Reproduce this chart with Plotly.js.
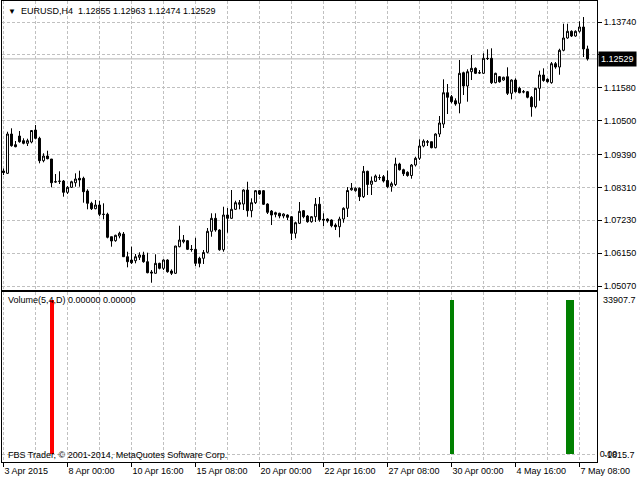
<!DOCTYPE html>
<html><head><meta charset="utf-8">
<script src="https://cdn.plot.ly/plotly-3.0.1.min.js"></script>
<style>html,body{margin:0;padding:0;background:#fff}#chart{width:640px;height:480px}</style>
</head><body><div id="chart"></div>
<script>
const symbol = 'EURUSD,H4';
const openP = [1.08847,1.08771,1.10062,1.09710,1.09996,1.09842,1.09756,1.09799,1.10193,1.09921,
1.09185,1.09339,1.09241,1.08495,1.08508,1.08518,1.08147,1.08311,1.08462,1.08607,
1.08607,1.08190,1.07786,1.07609,1.07730,1.07425,1.07425,1.06689,1.06558,1.06712,
1.06778,1.06032,1.05924,1.05901,1.06013,1.06088,1.05868,1.05530,1.05487,1.05815,
1.05651,1.05924,1.05563,1.05487,1.06361,1.06525,1.06558,1.06275,1.06275,1.05980,
1.05980,1.06177,1.06866,1.07293,1.06909,1.06262,1.07402,1.07293,1.07589,1.07753,
1.07763,1.08223,1.07543,1.07806,1.08200,1.08200,1.07763,1.07533,1.07477,1.07458,
1.07369,1.07402,1.07346,1.06801,1.07129,1.07543,1.07369,1.07182,1.07346,1.07756,
1.07260,1.07270,1.07238,1.07073,1.07017,1.07270,1.07622,1.08230,1.08200,1.08279,
1.08003,1.08837,1.08410,1.08508,1.08627,1.08660,1.08535,1.08344,1.08403,1.09077,
1.08889,1.08804,1.08699,1.09044,1.09264,1.09668,1.09789,1.09809,1.09612,1.10062,
1.10390,1.11418,1.11287,1.11155,1.11070,1.12075,1.11638,1.12108,1.12219,1.12075,
1.12055,1.12548,1.12548,1.11747,1.11944,1.11835,1.11944,1.11398,1.11835,1.11563,
1.11451,1.11451,1.11267,1.10958,1.11563,1.11999,1.11858,1.11747,1.12371,1.12262,
1.12811,1.13215,1.13435,1.13280,1.13435,1.13576,1.12855];
const highP = [1.08929,1.10137,1.10249,1.09832,1.10160,1.09921,1.09907,1.10193,1.10357,1.09973,
1.09428,1.09513,1.09241,1.08748,1.08837,1.08551,1.08354,1.08528,1.08771,1.08857,
1.08660,1.08246,1.07838,1.07894,1.07871,1.07786,1.07477,1.06689,1.06755,1.06853,
1.06843,1.06196,1.06361,1.06121,1.06177,1.06196,1.06164,1.05595,1.06111,1.05835,
1.05947,1.05947,1.05618,1.06390,1.07050,1.06745,1.06581,1.06416,1.06656,1.06032,
1.06252,1.06975,1.07458,1.07458,1.06932,1.07674,1.07632,1.08223,1.07871,1.07894,
1.08246,1.08495,1.07950,1.08223,1.08223,1.08223,1.07786,1.07566,1.07510,1.07477,
1.07458,1.07425,1.07369,1.07182,1.07829,1.07566,1.07402,1.07369,1.07960,1.07993,
1.07458,1.07293,1.07260,1.07129,1.07346,1.07655,1.08321,1.08453,1.08311,1.08305,
1.09011,1.08857,1.08666,1.08732,1.08732,1.08715,1.08863,1.08495,1.09283,1.09119,
1.08922,1.08837,1.09077,1.09316,1.09888,1.09888,1.09865,1.09815,1.10085,1.10653,
1.11858,1.11704,1.11343,1.11234,1.12492,1.12108,1.12187,1.12656,1.12252,1.12164,
1.12712,1.12843,1.12876,1.12075,1.11967,1.11944,1.12252,1.11858,1.11891,1.11615,
1.11507,1.11474,1.11310,1.11582,1.12141,1.12219,1.11891,1.12426,1.12426,1.12863,
1.13684,1.13684,1.13467,1.13467,1.13763,1.13904,1.12963];
const lowP = [1.08715,1.08748,1.09645,1.09625,1.09776,1.09724,1.09668,1.09756,1.09888,1.09100,
1.09132,1.09231,1.08311,1.08462,1.08420,1.08003,1.08091,1.08288,1.08331,1.08331,
1.07806,1.07589,1.07566,1.07589,1.07369,1.07260,1.06636,1.06361,1.06525,1.06636,
1.06025,1.05684,1.05792,1.05815,1.05924,1.05835,1.05487,1.05178,1.05480,1.05618,
1.05595,1.05507,1.05431,1.05464,1.06341,1.06472,1.06252,1.06196,1.05727,1.05684,
1.05792,1.06144,1.06689,1.06853,1.06229,1.06196,1.06820,1.07280,1.07566,1.07589,
1.07566,1.07346,1.07326,1.07763,1.08059,1.07730,1.07435,1.07073,1.07326,1.07293,
1.07293,1.07238,1.06581,1.06636,1.07106,1.07293,1.07149,1.07149,1.07172,1.07182,
1.07040,1.07149,1.06998,1.06909,1.06669,1.07149,1.07336,1.08200,1.08167,1.07861,
1.07960,1.08059,1.08059,1.08485,1.08551,1.08469,1.08288,1.08167,1.08354,1.08863,
1.08682,1.08660,1.08594,1.08994,1.09208,1.09625,1.09668,1.09592,1.09592,1.09963,
1.10259,1.10719,1.11070,1.10991,1.10742,1.11343,1.11123,1.11835,1.12032,1.12032,
1.12032,1.12492,1.11704,1.11727,1.11747,1.11812,1.11343,1.11201,1.11418,1.11398,
1.11398,1.11234,1.10630,1.10906,1.11155,1.11779,1.11747,1.11714,1.12206,1.12009,
1.12778,1.13192,1.13247,1.13257,1.13389,1.12591,1.12474];
const closeP = [1.08797,1.10062,1.09678,1.09645,1.09809,1.09756,1.09842,1.10177,1.09921,1.09185,
1.09339,1.09251,1.08462,1.08489,1.08510,1.08147,1.08311,1.08495,1.08584,1.08551,
1.08167,1.07786,1.07609,1.07730,1.07425,1.07422,1.06669,1.06548,1.06735,1.06801,
1.06032,1.05868,1.05835,1.06032,1.06088,1.05868,1.05507,1.05497,1.05815,1.05651,
1.05924,1.05540,1.05487,1.06384,1.06581,1.06581,1.06275,1.06269,1.05815,1.05815,
1.06170,1.06866,1.07293,1.06909,1.06262,1.07402,1.07293,1.07589,1.07806,1.07806,
1.08223,1.07543,1.07806,1.08200,1.08091,1.07753,1.07490,1.07402,1.07425,1.07369,
1.07435,1.07326,1.06801,1.07149,1.07523,1.07346,1.07182,1.07346,1.07756,1.07244,
1.07238,1.07205,1.07050,1.07017,1.07270,1.07622,1.08206,1.08279,1.08279,1.08003,
1.08837,1.08403,1.08518,1.08682,1.08633,1.08518,1.08331,1.08430,1.09077,1.08889,
1.08758,1.08699,1.09044,1.09264,1.09668,1.09832,1.09809,1.09612,1.10062,1.10423,
1.11418,1.11267,1.11123,1.11047,1.12055,1.11638,1.12108,1.12219,1.12055,1.12068,
1.12548,1.12541,1.11747,1.12055,1.11779,1.11924,1.11398,1.11835,1.11451,1.11418,
1.11444,1.11267,1.10958,1.11563,1.11999,1.11819,1.11779,1.12371,1.12262,1.12811,
1.13215,1.13435,1.13280,1.13435,1.13576,1.12855,1.12529];

const tickBars = [0,16,32,48,64,80,96,112,128,144];
const tickLabels = ['3 Apr 2015','8 Apr 00:00','10 Apr 16:00','15 Apr 08:00','20 Apr 00:00',
  '22 Apr 16:00','27 Apr 08:00','30 Apr 00:00','4 May 16:00','7 May 08:00'];
const priceTicks = [1.13740,1.12660,1.11580,1.10500,1.09390,1.08310,1.07230,1.06150,1.05070];

const volTitle = 'Volume(5,4,D) 0.00000 0.00000';
const volRedBars = [12];
const volRedValues = [33907.7];
const volGreenBars = [112,141,142];
const volGreenValues = [33907.7,33907.7,33907.7];
const volScaleMax = 33907.7;
const volScaleMin = -1815.7;
const copyright = 'FBS Trader, \u00a9 2001-2014, MetaQuotes Software Corp.';

const barIndex = openP.map((_, i) => i);
const last = openP.length - 1;
const f5 = v => v.toFixed(5);
const FONT = 'Liberation Sans, Arial, sans-serif';
const GRID = '#c0c0c0';
const DASH = '3px,2px';
const XR = [-0.375, 148.375];

const traces = [
  {
    type: 'candlestick', x: barIndex, open: openP, high: highP, low: lowP, close: closeP,
    xaxis: 'x', yaxis: 'y',
    increasing: {line: {color: '#000', width: 1}, fillcolor: '#fff'},
    decreasing: {line: {color: '#000', width: 1}, fillcolor: '#000'},
    whiskerwidth: 0, hoverinfo: 'skip'
  },
  {type: 'bar', x: volRedBars, y: volRedValues, width: 1, xaxis: 'x2', yaxis: 'y2',
   marker: {color: '#ff0000', line: {width: 0}}, hoverinfo: 'skip'},
  {type: 'bar', x: volGreenBars, y: volGreenValues, width: 1, xaxis: 'x2', yaxis: 'y2',
   marker: {color: '#008000', line: {width: 0}}, hoverinfo: 'skip'}
];

const xCommon = {
  range: XR, zeroline: false, tickmode: 'array', tickvals: tickBars,
  showgrid: true, gridcolor: GRID, griddash: DASH, gridwidth: 1,
  minor: {dtick: 8, tick0: 0, showgrid: true, gridcolor: GRID, griddash: DASH, gridwidth: 1, ticks: ''},
  showline: true, mirror: true, linecolor: '#000', linewidth: 1, fixedrange: true
};

const layout = {
  width: 640, height: 480,
  margin: {l: 2, r: 43, t: 1, b: 18, pad: 0},
  paper_bgcolor: '#fff', plot_bgcolor: '#fff',
  showlegend: false, hovermode: false, bargap: 0,
  font: {family: FONT, size: 9, color: '#000'},
  xaxis: Object.assign({}, xCommon, {anchor: 'y', showticklabels: false, ticks: '',
    rangeslider: {visible: false}}),
  yaxis: {
    domain: [0.3731, 1], range: [1.04939, 1.14430], side: 'right', anchor: 'x',
    tickmode: 'array', tickvals: priceTicks, ticktext: priceTicks.map(f5),
    ticks: 'outside', ticklen: 4, tickcolor: '#000',
    showgrid: true, gridcolor: GRID, griddash: DASH, zeroline: false,
    showline: true, mirror: true, linecolor: '#000', linewidth: 1, fixedrange: true,
    tickfont: {family: FONT, size: 9, color: '#000'}
  },
  xaxis2: Object.assign({}, xCommon, {anchor: 'y2', ticktext: tickLabels,
    ticks: 'outside', ticklen: 4, tickcolor: '#000', ticklabelposition: 'outside right',
    tickfont: {family: FONT, size: 9, color: '#000'}}),
  yaxis2: {
    domain: [0, 0.3677], range: [-1761, 35559], side: 'right', anchor: 'x2',
    tickmode: 'array', tickvals: [0], ticktext: ['0.00'], ticks: '',
    showgrid: true, gridcolor: GRID, griddash: DASH, zeroline: false,
    showline: true, mirror: true, linecolor: '#000', linewidth: 1, fixedrange: true,
    tickfont: {family: FONT, size: 9, color: '#000'}
  },
  shapes: [
    {type: 'line', xref: 'x', x0: XR[0], x1: XR[1], yref: 'y', y0: closeP[last], y1: closeP[last],
     line: {color: '#b4b4b4', width: 1}, layer: 'below'}
  ],
  annotations: [
    {xref: 'paper', yref: 'paper', x: 0, y: 1, xanchor: 'left', yanchor: 'top', xshift: 4, yshift: -3,
     showarrow: false, align: 'left',
     text: '<span style="font-size:8px">\u25BC</span>\u00a0\u00a0' + symbol + '\u00a0\u00a0' +
       [openP[last], highP[last], lowP[last], closeP[last]].map(f5).join('\u00a0'),
     font: {family: FONT, size: 9, color: '#000'}},
    {xref: 'paper', yref: 'y', x: 1, y: closeP[last], xanchor: 'left', yanchor: 'middle', xshift: 1,
     showarrow: false, text: f5(closeP[last]), bgcolor: '#000', borderpad: 2,
     font: {family: FONT, size: 9, color: '#fff'}},
    {xref: 'paper', yref: 'y2 domain', x: 0, y: 1, xanchor: 'left', yanchor: 'top', xshift: 4, yshift: -1,
     showarrow: false, text: volTitle, font: {family: FONT, size: 9, color: '#000'}},
    {xref: 'paper', yref: 'y2 domain', x: 0, y: 0, xanchor: 'left', yanchor: 'bottom', xshift: 4, yshift: 0,
     showarrow: false, text: copyright, font: {family: FONT, size: 9, color: '#000'}},
    {xref: 'paper', yref: 'y2', x: 1, y: volScaleMax, xanchor: 'left', yanchor: 'middle', xshift: 4,
     showarrow: false, text: String(volScaleMax), font: {family: FONT, size: 9, color: '#000'}},
    {xref: 'paper', yref: 'y2 domain', x: 1, y: 0, xanchor: 'left', yanchor: 'bottom', xshift: 5,
     showarrow: false, text: String(volScaleMin), font: {family: FONT, size: 9, color: '#000'}}
  ]
};

Plotly.newPlot('chart', traces, layout, {staticPlot: true, displayModeBar: false});
</script>
</body></html>
